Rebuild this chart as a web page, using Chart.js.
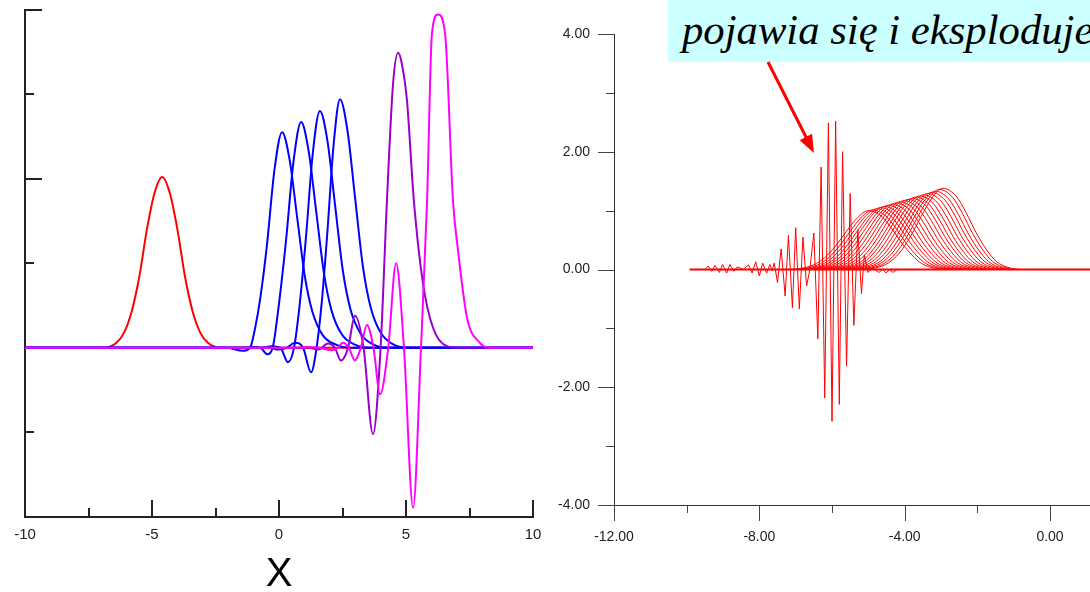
<!DOCTYPE html>
<html>
<head>
<meta charset="utf-8">
<script src="https://cdn.jsdelivr.net/npm/chart.js"></script>
<style>
  html, body { margin: 0; padding: 0; background: #fff; }
  body { width: 1090px; height: 592px; overflow: hidden; position: relative; }
  canvas { position: absolute; top: 0; }
  #left { left: 0; }
  #right { left: 545px; }
  #note {
    position: absolute; left: 668px; top: 0; width: 440px; height: 62px;
    box-sizing: border-box; padding-left: 14px;
    background: #ccffff; color: #000; white-space: nowrap;
    font: italic 42.7px 'Times New Roman', 'Liberation Serif', serif; line-height: 60px;
  }
  #arrow { position: absolute; left: 0; top: 0; }
</style>
</head>
<body>
<canvas id="left" width="560" height="600"></canvas>
<canvas id="right" width="545" height="592"></canvas>
<div id="note">pojawia się i eksploduje</div>
<svg id="arrow" width="1090" height="592">
  <line x1="768" y1="62" x2="807" y2="139" stroke="#ff0000" stroke-width="3"/>
  <polygon points="814,153 799.7,140.2 812.1,133.8" fill="#ff0000"/>
</svg>
<script>
// ---- left panel: axes
const leftXMajor = [-10, -5, 0, 5, 10];
const leftXMinor = [-7.5, -2.5, 2.5, 7.5];
const leftYMajor = [-2, 0, 2, 4];
const leftYMinor = [-1, 1, 3];

// ---- left panel: curves, [x, y]
const redPulse = [[-10, 0], [-6.9, 0], [-6.4, 0.06], [-6.1, 0.18], [-5.8, 0.43], [-5.5, 0.84], [-5.2, 1.4],
  [-4.9, 1.83], [-4.6, 2.02], [-4.3, 1.83], [-4.0, 1.4], [-3.7, 0.84], [-3.4, 0.43], [-3.1, 0.18],
  [-2.8, 0.06], [-2.3, 0], [10, 0]];
const blue1 = [[-10, 0], [-2.08, 0], [-1.42, -0.035], [-1.14, 0], [-0.93, 0.25], [-0.75, 0.56], [-0.48, 1.2],
  [-0.18, 2.1], [0.12, 2.55], [0.42, 2.22], [0.72, 1.53], [1.02, 0.84], [1.32, 0.42], [1.72, 0.15],
  [2.22, 0.04], [2.82, 0], [10, 0]];
const blue2 = [[-10, 0], [-1.43, 0], [-1.03, 0.01], [-0.73, 0], [-0.47, -0.075], [-0.25, 0], [-0.03, 0.45],
  [0.27, 1.25], [0.57, 2.2], [0.87, 2.67], [1.17, 2.32], [1.47, 1.6], [1.77, 0.88], [2.07, 0.44],
  [2.47, 0.16], [2.97, 0.04], [3.57, 0], [10, 0]];
const blue3 = [[-10, 0], [-0.69, 0], [-0.28, 0.02], [0.06, 0], [0.35, -0.17], [0.59, 0], [0.81, 0.5],
  [1.06, 1.3], [1.33, 2.3], [1.61, 2.8], [1.91, 2.44], [2.21, 1.68], [2.51, 0.92], [2.81, 0.46],
  [3.21, 0.17], [3.71, 0.04], [4.31, 0], [10, 0]];
const blue4 = [[-10, 0], [-0.4, 0], [0.0, -0.02], [0.3, 0], [0.63, 0.06], [0.95, 0], [1.26, -0.29], [1.48, 0],
  [1.69, 0.56], [1.9, 1.35], [2.15, 2.4], [2.4, 2.94], [2.7, 2.56], [3.0, 1.76], [3.3, 0.97], [3.6, 0.49],
  [4.0, 0.18], [4.5, 0.04], [5.1, 0], [10, 0]];
const purple = [[-10, 0], [1.2, 0], [1.55, -0.02], [1.93, 0.05], [2.2, 0], [2.44, -0.15], [2.72, 0],
  [2.99, 0.38], [3.33, 0], [3.7, -1.02], [4.0, 0], [4.25, 1.74], [4.49, 3.12], [4.69, 3.49], [4.9, 3.25],
  [5.04, 2.92], [5.31, 1.74], [5.67, 0.76], [6.06, 0.24], [6.61, 0.02], [7.2, 0], [10, 0]];
const magenta = [[-10, 0], [0.6, 0], [1.1, 0.01], [1.6, 0], [2.09, -0.03], [2.3, 0], [2.52, 0.06], [2.75, 0],
  [2.99, -0.15], [3.22, 0], [3.46, 0.27], [3.72, 0], [3.98, -0.55], [4.3, 0], [4.61, 1.0], [4.92, 0],
  [5.28, -1.89], [5.59, 0], [5.83, 1.74], [6.02, 3.71], [6.26, 3.94], [6.54, 3.71], [6.85, 1.74],
  [7.05, 1.15], [7.4, 0.36], [7.91, 0.06], [8.31, 0], [10, 0]];

// ---- right panel: axes
const rightXMajor = [-12, -8, -4, 0];
const rightXMinor = [-10, -6, -2];
const rightYMajor = [-4, -2, 0, 2, 4];
const rightYMinor = [-3, -1, 1, 3];

// ---- right panel: travelling humps (peak of each snapshot + one hump profile)
const humpPeakX = [-5.0, -4.89, -4.78, -4.67, -4.57, -4.46, -4.35, -4.24, -4.13, -4.02,
  -3.91, -3.8, -3.7, -3.59, -3.48, -3.37, -3.26, -3.16, -3.05, -2.95];
const humpPeakY = [1.0, 1.01, 1.03, 1.05, 1.07, 1.09, 1.11, 1.13, 1.15, 1.17,
  1.19, 1.21, 1.23, 1.25, 1.27, 1.29, 1.31, 1.33, 1.36, 1.38];
const humpDx = [-2.2, -1.85, -1.5, -1.2, -0.9, -0.6, -0.3, 0, 0.37, 0.64, 0.92, 1.2, 1.47, 1.84, 2.3];
const humpRel = [0, 0.02, 0.08, 0.2, 0.4, 0.65, 0.88, 1, 0.9, 0.7, 0.45, 0.245, 0.1, 0.02, 0];
const xStart = -9.91;
const xEnd = 1.5;
const baseline = [[xStart, 0], [xEnd, 0]];

// ---- right panel: the exploding spikes
const spikes = [[-9.91, 0], [-9.5, 0], [-9.41, 0.06], [-9.31, -0.03], [-9.22, 0.07], [-9.1, -0.05],
  [-9.01, 0.085], [-8.9, -0.06], [-8.81, 0.085], [-8.7, -0.03], [-8.61, 0.045], [-8.44, 0], [-8.3, 0.08],
  [-8.2, -0.06], [-8.1, 0.13], [-8.0, -0.11], [-7.91, 0.11], [-7.8, -0.06], [-7.71, 0.085], [-7.65, -0.02],
  [-7.59, 0.11], [-7.5, -0.22], [-7.4, 0.35], [-7.29, -0.45], [-7.2, 0.58], [-7.09, -0.65], [-7.0, 0.71],
  [-6.9, -0.67], [-6.8, 0.55], [-6.7, -0.28], [-6.61, 0], [-6.5, 0.62], [-6.39, -1.18], [-6.3, 1.74],
  [-6.2, -2.18], [-6.1, 2.49], [-6.0, -2.58], [-5.9, 2.52], [-5.8, -2.29], [-5.71, 2.0], [-5.6, -1.64],
  [-5.5, 1.29], [-5.4, -0.95], [-5.29, 0.68], [-5.19, -0.41], [-5.11, 0.25], [-5.01, -0.05], [-4.9, 0.03],
  [-4.71, -0.05], [-4.61, 0], [-4.51, -0.06], [-4.42, 0], [-4.32, -0.05], [-4.21, 0], [1.5, 0]];

const FONT = "Arial, 'Liberation Sans', sans-serif";
const toPts = (arr) => arr.map(([x, y]) => ({ x, y }));

// tick marks: inward (dir -1) or outward (dir 1), major / minor lengths
function tickMarks(cfg) {
  return {
    id: 'tickMarks',
    beforeDatasetsDraw(chart) {
      const { ctx, chartArea: a, scales: { x, y } } = chart;
      const off = cfg.width % 2 ? 0.5 : 0;
      ctx.save();
      ctx.strokeStyle = cfg.color;
      ctx.lineWidth = cfg.width;
      ctx.beginPath();
      [[cfg.xMajor, cfg.major], [cfg.xMinor, cfg.minor]].forEach(([vals, len]) => {
        vals.forEach((v) => {
          const px = Math.round(x.getPixelForValue(v)) + off;
          ctx.moveTo(px, a.bottom);
          ctx.lineTo(px, a.bottom + cfg.dir * len);
        });
      });
      [[cfg.yMajor, cfg.major], [cfg.yMinor, cfg.minor]].forEach(([vals, len]) => {
        vals.forEach((v) => {
          const py = Math.round(y.getPixelForValue(v)) + off;
          ctx.moveTo(a.left, py);
          ctx.lineTo(a.left - cfg.dir * len, py);
        });
      });
      ctx.stroke();
      ctx.restore();
    },
  };
}

// ---------------- left chart ----------------
const leftSeries = [
  [redPulse, '#ff0000'],
  [blue1, '#0000ff'],
  [blue2, '#0000ff'],
  [blue3, '#0000ff'],
  [blue4, '#0000ff'],
  [purple, '#9900cc'],
  [magenta, '#ff00ff'],
];

new Chart(document.getElementById('left'), {
  type: 'line',
  data: {
    datasets: leftSeries.map(([pts, color], i) => ({
      data: toPts(pts),
      borderColor: color,
      borderWidth: 2,
      pointRadius: 0,
      tension: 0.4,
      cubicInterpolationMode: 'monotone',
      order: leftSeries.length - i,
    })),
  },
  options: {
    responsive: false,
    animation: false,
    events: [],
    layout: { padding: { left: 25, right: 27, top: 9.5, bottom: 5 } },
    plugins: { legend: { display: false }, tooltip: { enabled: false } },
    scales: {
      x: {
        type: 'linear',
        min: -10,
        max: 10,
        afterFit: (s) => { s.height = 78; },
        afterBuildTicks: (s) => { s.ticks = leftXMajor.map((v) => ({ value: v })); },
        grid: { display: false, drawTicks: false },
        border: { display: true, width: 2, color: '#222' },
        ticks: {
          padding: 9,
          autoSkip: false,
          maxRotation: 0,
          color: '#222',
          font: { family: FONT, size: 15 },
          callback: (v) => String(v),
        },
        title: {
          display: true,
          text: 'X',
          color: '#000',
          padding: 0,
          font: { family: FONT, size: 40, lineHeight: 1 },
        },
      },
      y: {
        min: -2,
        max: 4,
        afterFit: (s) => { s.width = 0; },
        grid: { display: false, drawTicks: false },
        border: { display: true, width: 2, color: '#222' },
        ticks: { display: false },
      },
    },
  },
  plugins: [tickMarks({
    xMajor: leftXMajor, xMinor: leftXMinor, yMajor: leftYMajor, yMinor: leftYMinor,
    major: 17, minor: 9, dir: -1, width: 2, color: '#222',
  })],
});

// ---------------- right chart ----------------
const humpSets = humpPeakX.map((px, i) => ({
  data: [{ x: xStart, y: 0 }]
    .concat(humpDx.map((d, k) => ({ x: px + d, y: humpPeakY[i] * humpRel[k] })))
    .concat([{ x: xEnd, y: 0 }]),
  borderColor: '#ff0000',
  borderWidth: 1,
  pointRadius: 0,
  tension: 0.4,
  cubicInterpolationMode: 'monotone',
}));

new Chart(document.getElementById('right'), {
  type: 'line',
  data: {
    datasets: humpSets.concat([
      {
        data: toPts(spikes),
        borderColor: '#ff0000',
        borderWidth: 1,
        pointRadius: 0,
        tension: 0,
      },
      {
        data: toPts(baseline),
        borderColor: '#ff0000',
        borderWidth: 2,
        pointRadius: 0,
        tension: 0,
      },
    ]),
  },
  options: {
    responsive: false,
    animation: false,
    events: [],
    layout: { padding: { left: 0, right: 0, top: 34, bottom: 0 } },
    plugins: { legend: { display: false }, tooltip: { enabled: false } },
    scales: {
      x: {
        type: 'linear',
        min: -12,
        max: 1.1,
        afterFit: (s) => { s.height = 87; },
        afterBuildTicks: (s) => { s.ticks = rightXMajor.map((v) => ({ value: v })); },
        grid: { display: false, drawTicks: false },
        border: { display: true, width: 1, color: '#333' },
        ticks: {
          padding: 24,
          autoSkip: false,
          maxRotation: 0,
          color: '#222',
          font: { family: FONT, size: 14 },
          callback: (v) => Number(v).toFixed(2),
        },
      },
      y: {
        min: -4,
        max: 4,
        afterFit: (s) => { s.width = 69; },
        afterBuildTicks: (s) => { s.ticks = rightYMajor.map((v) => ({ value: v })); },
        grid: { display: false, drawTicks: false },
        border: { display: true, width: 1, color: '#333' },
        ticks: {
          padding: 24,
          color: '#222',
          font: { family: FONT, size: 14 },
          callback: (v) => Number(v).toFixed(2),
        },
      },
    },
  },
  plugins: [tickMarks({
    xMajor: rightXMajor, xMinor: rightXMinor, yMajor: rightYMajor, yMinor: rightYMinor,
    major: 16, minor: 8, dir: 1, width: 1, color: '#444',
  })],
});
</script>
</body>
</html>
